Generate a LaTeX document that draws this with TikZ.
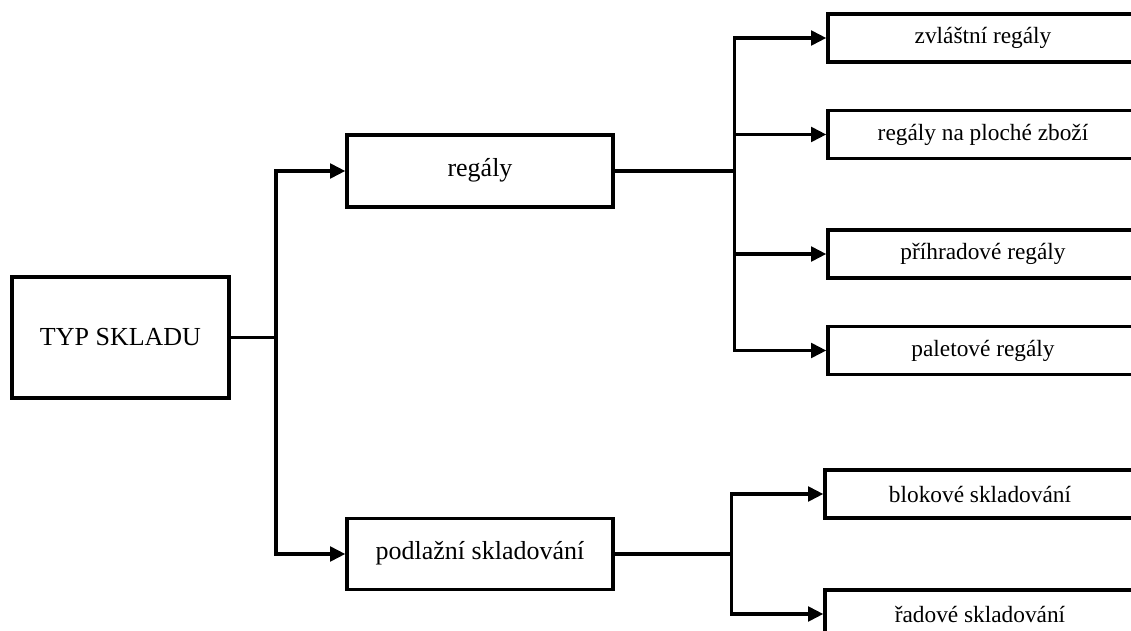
\documentclass[tikz,border=0pt]{standalone}
\usepackage{fontspec}
\setmainfont{Liberation Serif}
\usetikzlibrary{arrows.meta}
\tikzset{
  box/.style={draw, line width=2.5pt, rectangle, inner sep=0pt, align=center},
  bigbox/.style={box, font=\fontsize{19.5}{22}\selectfont},
  leafbox/.style={box, font=\fontsize{17.5}{20}\selectfont, minimum width=232.5pt, minimum height=36pt},
  link/.style={line width=2.5pt},
  feed/.style={line width=2.5pt, -{Triangle[length=11.5pt,width=11pt]}},
}
\begin{document}
\begin{tikzpicture}[x=0.75pt, y=-0.75pt]
\useasboundingbox (0,0) rectangle (1131,631);
\clip (0,0) rectangle (1131,631);
\fill[white] (0,0) rectangle (1131,631);

% root and second level
\node[bigbox, minimum width=162.75pt, minimum height=90.75pt] (typ) at (120.5,337.5) {TYP SKLADU};
\node[bigbox, minimum width=199.5pt, minimum height=54pt, text depth=6pt] (reg) at (480,171) {regály};
\node[bigbox, minimum width=199.5pt, minimum height=53.25pt, text depth=6pt] (pod) at (480,554) {podlažní skladování};

% leaves
\node[leafbox] (zv) at (983,38) {zvláštní regály};
\node[leafbox] (pl) at (983,134.5) {regály na ploché zboží};
\node[leafbox] (pr) at (983,254) {příhradové regály};
\node[leafbox] (pa) at (983,350.5) {paletové regály};
\node[leafbox] (bl) at (980,494) {blokové skladování};
\node[leafbox] (ra) at (980,614) {řadové skladování};

% branch points
\coordinate (j1) at (276,337.5);
\path (reg.east) ++(120,0) coordinate (j2);
\path (pod.east) ++(117,0) coordinate (j3);

\draw[link] (typ.east) -- (j1);
\draw[feed] (j1) |- (reg.west);
\draw[feed] (j1) |- (pod.west);

\draw[link] (reg.east) -- (j2);
\draw[feed] (j2) |- (zv.west);
\draw[feed] (j2) |- (pl.west);
\draw[feed] (j2) |- (pr.west);
\draw[feed] (j2) |- (pa.west);

\draw[link] (pod.east) -- (j3);
\draw[feed] (j3) |- (bl.west);
\draw[feed] (j3) |- (ra.west);
\end{tikzpicture}
\end{document}
